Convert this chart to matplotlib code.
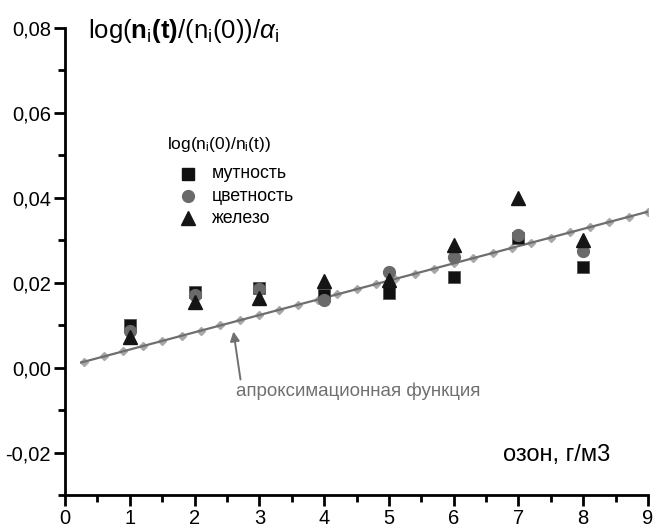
import matplotlib.pyplot as plt
from matplotlib.ticker import MultipleLocator, FuncFormatter

plt.rcParams['font.family'] = ['Liberation Sans', 'DejaVu Sans']
plt.rcParams['mathtext.fontset'] = 'custom'
plt.rcParams['mathtext.rm'] = 'Liberation Sans'
plt.rcParams['mathtext.it'] = 'Liberation Sans:italic'
plt.rcParams['mathtext.bf'] = 'Liberation Sans:bold'

# данные
ozone = [1, 2, 3, 4, 5, 6, 7, 8]
turbidity = [0.0101, 0.0179, 0.0188, 0.0170, 0.0176, 0.0214, 0.0306, 0.0238]
color = [0.0086, 0.0170, 0.0186, 0.0160, 0.0226, 0.0261, 0.0313, 0.0275]
iron = [0.0072, 0.0155, 0.0165, 0.0205, 0.0207, 0.0290, 0.0400, 0.0301]

# апроксимационная функция (точки)
fit_x = [0.3, 0.6, 0.9, 1.2, 1.5, 1.8, 2.1, 2.4, 2.7, 3.0, 3.3, 3.6, 3.9, 4.2, 4.5,
         4.8, 5.1, 5.4, 5.7, 6.0, 6.3, 6.6, 6.9, 7.2, 7.5, 7.8, 8.1, 8.4, 8.7, 9.0]
fit_slope = 0.00406
fit_intercept = 0.0002
fit_y = [fit_intercept + fit_slope * x for x in fit_x]

fig = plt.figure(figsize=(6.58, 5.27), dpi=100)
ax = fig.add_axes([0.0988, 0.0607, 0.886, 0.8862])

ax.plot([0.25] + fit_x, [fit_intercept + fit_slope * 0.25] + fit_y,
        color='#6e6e6e', lw=1.6, zorder=2)
ax.plot(fit_x, fit_y, linestyle='none', marker='D', ms=4.5,
        color='#a8a8a8', zorder=1)

ax.plot(ozone, turbidity, 's', ms=8, color='#111111', mec='#555555', mew=0.6, zorder=3)
ax.plot(ozone, color, 'o', ms=8.5, color='#6a6a6a', zorder=4)
ax.plot(ozone, iron, '^', ms=10, color='#151515', zorder=5)

ax.set_xlim(0, 9)
ax.set_ylim(-0.03, 0.08)
ax.spines['top'].set_visible(False)
ax.spines['right'].set_visible(False)
for s in ('left', 'bottom'):
    ax.spines[s].set_linewidth(2)

ax.xaxis.set_major_locator(MultipleLocator(1))
ax.xaxis.set_minor_locator(MultipleLocator(0.5))
ax.yaxis.set_major_locator(MultipleLocator(0.02))
ax.yaxis.set_minor_locator(MultipleLocator(0.01))
ax.yaxis.set_major_formatter(FuncFormatter(lambda v, p: f'{v:.2f}'.replace('.', ',').replace('-0,00', '0,00')))
ax.tick_params(which='major', direction='out', length=8, width=2, labelsize=14.5, pad=2)
ax.tick_params(which='minor', direction='out', length=5, width=2)

# заголовок оси y
fig.text(88 / 658, 1 - 17 / 527,
         r'log($\mathbf{n}_\mathrm{i}\mathbf{(t)}$/(n$_\mathrm{i}$(0))/$\alpha_\mathrm{i}$',
         fontsize=18.5, va='top', ha='left')
ax.text(8.42, -0.0205, 'озон, г/м3', fontsize=17, ha='right', va='center')

# легенда
ax.text(1.58, 0.0525, r'log(n$_\mathrm{i}$(0)/n$_\mathrm{i}$(t))', fontsize=12.5, va='center')
leg_x = 1.9
leg_y = [0.0457, 0.0404, 0.0352]
ax.plot(leg_x, leg_y[0], 's', ms=8, color='#111111')
ax.plot(leg_x, leg_y[1], 'o', ms=8.5, color='#6a6a6a')
ax.plot(leg_x, leg_y[2], '^', ms=10, color='#151515')
for y, lbl in zip(leg_y, ['мутность', 'цветность', 'железо']):
    ax.text(2.27, y, lbl, fontsize=12.8, va='center')

ax.annotate('апроксимационная функция', xy=(2.60, 0.0085), xytext=(2.64, -0.0055),
            fontsize=13.5, color='#707070', va='center', ha='left',
            arrowprops=dict(arrowstyle='-|>', color='#707070', lw=1.4,
                            shrinkA=0, shrinkB=0, mutation_scale=14,
                            relpos=(0.02, 1.0)))

fig.savefig('out.png', dpi=100)
